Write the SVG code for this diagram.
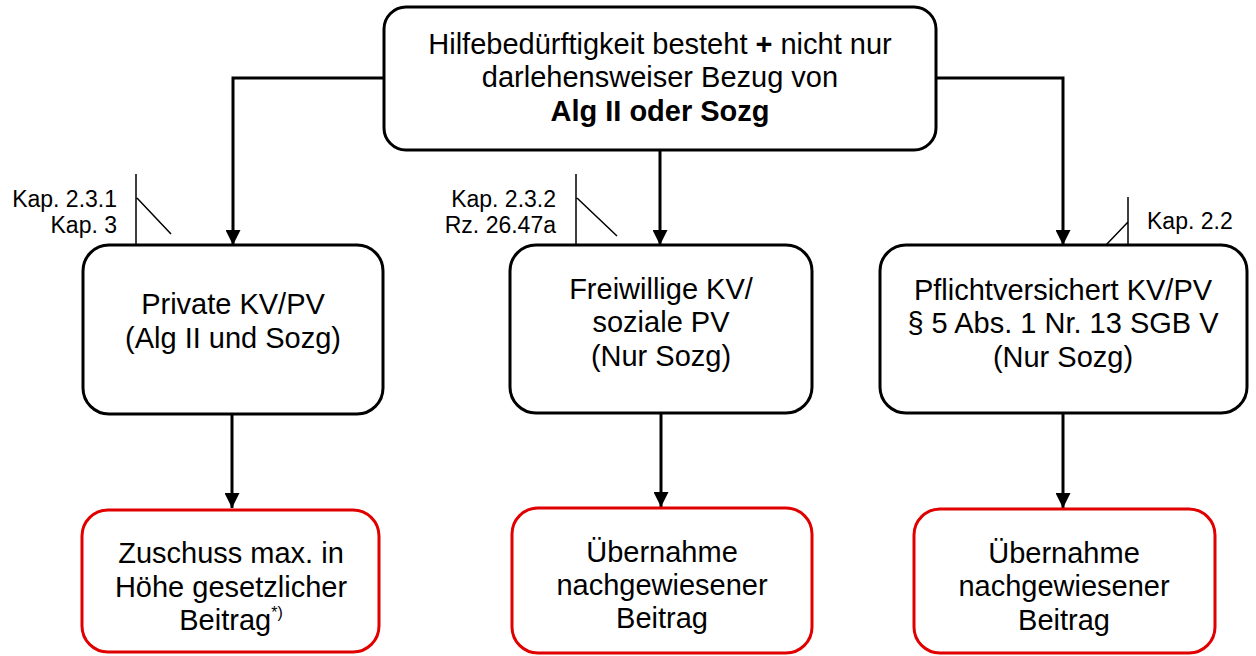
<svg xmlns="http://www.w3.org/2000/svg" width="1256" height="656" viewBox="0 0 1256 656">
<style>
  .box{fill:#fff;stroke:#000;stroke-width:3}
  .red{fill:#fff;stroke:#e00000;stroke-width:3}
  .t{font-family:"Liberation Sans",Arial,sans-serif;font-size:29px;fill:#000;text-anchor:middle}
  .a{font-family:"Liberation Sans",Arial,sans-serif;font-size:23px;fill:#000}
  .sup{font-size:16px}
  .c{fill:none;stroke:#000;stroke-width:3}
  .n{fill:none;stroke:#000;stroke-width:1.5}
</style>
<defs>
  <marker id="arr" viewBox="0 0 10 10" refX="10" refY="5" markerWidth="15" markerHeight="15" markerUnits="userSpaceOnUse" orient="auto">
    <path d="M0,0 L10,5 L0,10 Z" fill="#000"/>
  </marker>
</defs>
<rect width="1256" height="656" fill="#fff"/>
<g id="connectors">
  <path class="c" d="M384,78 H233 V245" marker-end="url(#arr)"/>
  <path class="c" d="M660,150 V245" marker-end="url(#arr)"/>
  <path class="c" d="M936,78 H1063 V245" marker-end="url(#arr)"/>
  <path class="c" d="M232,414 V508" marker-end="url(#arr)"/>
  <path class="c" d="M661,413 V507" marker-end="url(#arr)"/>
  <path class="c" d="M1063,413 V508" marker-end="url(#arr)"/>
</g>
<g id="top">
  <rect class="box" x="384" y="7" width="552" height="143" rx="22"/>
  <text class="t" x="660" y="54">Hilfebedürftigkeit besteht <tspan font-weight="bold">+</tspan> nicht nur</text>
  <text class="t" x="660" y="87">darlehensweiser Bezug von</text>
  <text class="t" x="660" y="121" font-weight="bold">Alg II oder Sozg</text>
</g>
<g id="private">
  <rect class="box" x="83" y="245" width="300" height="169" rx="26"/>
  <text class="t" x="233" y="314">Private KV/PV</text>
  <text class="t" x="233" y="348">(Alg II und Sozg)</text>
</g>
<g id="freiwillig">
  <rect class="box" x="510" y="245" width="302" height="168" rx="26"/>
  <text class="t" x="661" y="299">Freiwillige KV/</text>
  <text class="t" x="661" y="332">soziale PV</text>
  <text class="t" x="661" y="366">(Nur Sozg)</text>
</g>
<g id="pflicht">
  <rect class="box" x="880" y="245" width="367" height="168" rx="26"/>
  <text class="t" x="1063" y="300">Pflichtversichert KV/PV</text>
  <text class="t" x="1063" y="333">§ 5 Abs. 1 Nr. 13 SGB V</text>
  <text class="t" x="1063" y="367">(Nur Sozg)</text>
</g>
<g id="zuschuss">
  <rect class="red" x="82" y="510" width="297" height="142" rx="26"/>
  <text class="t" x="231" y="563">Zuschuss max. in</text>
  <text class="t" x="231" y="597">Höhe gesetzlicher</text>
  <text class="t" x="231" y="630">Beitrag<tspan class="sup" dy="-12">*)</tspan></text>
</g>
<g id="uebernahme1">
  <rect class="red" x="512" y="508" width="300" height="145" rx="26"/>
  <text class="t" x="662" y="562">Übernahme</text>
  <text class="t" x="662" y="595">nachgewiesener</text>
  <text class="t" x="662" y="628">Beitrag</text>
</g>
<g id="uebernahme2">
  <rect class="red" x="914" y="509" width="301" height="144" rx="26"/>
  <text class="t" x="1064" y="563">Übernahme</text>
  <text class="t" x="1064" y="596">nachgewiesener</text>
  <text class="t" x="1064" y="630">Beitrag</text>
</g>
<g id="note1">
  <path class="n" d="M136,174 V245 M137,198 L171,234"/>
  <text class="a" x="117" y="207" text-anchor="end">Kap. 2.3.1</text>
  <text class="a" x="117" y="233" text-anchor="end">Kap. 3</text>
</g>
<g id="note2">
  <path class="n" d="M576,174 V245 M577,198 L617,236"/>
  <text class="a" x="556" y="207" text-anchor="end">Kap. 2.3.2</text>
  <text class="a" x="556" y="233" text-anchor="end">Rz. 26.47a</text>
</g>
<g id="note3">
  <path class="n" d="M1128,197 V245 M1106,245 L1128,222"/>
  <text class="a" x="1147" y="229">Kap. 2.2</text>
</g>
</svg>
